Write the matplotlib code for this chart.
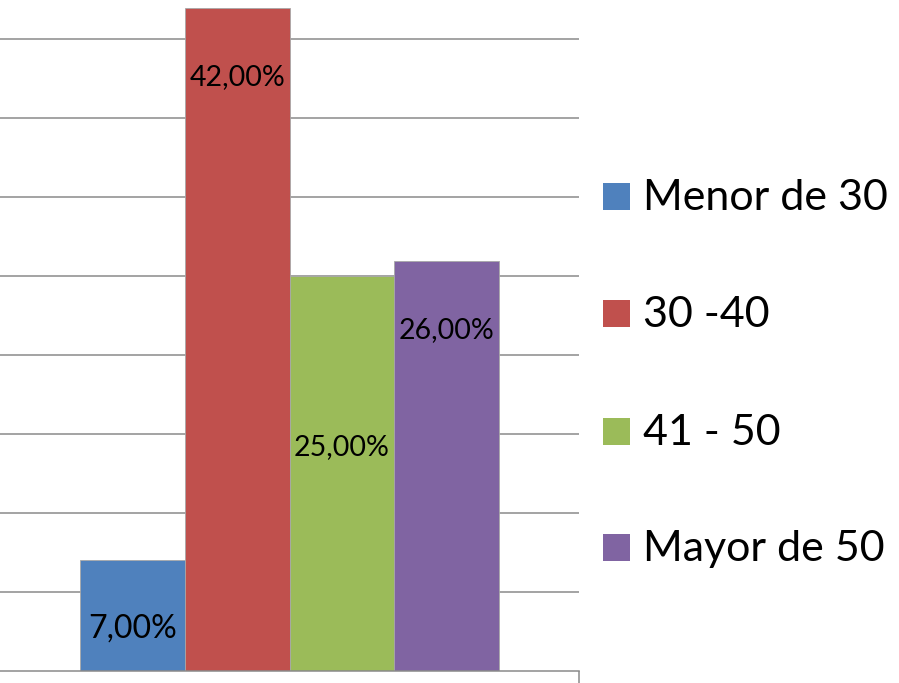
import matplotlib.pyplot as plt
from matplotlib.patches import Rectangle

# datos del grafico (porcentajes por rango de edad)
categories = ['Menor de 30', '30 -40', '41 - 50', 'Mayor de 50']
values = [7.0, 42.0, 25.0, 26.0]
labels = ['7,00%', '42,00%', '25,00%', '26,00%']
colors = ['#4F81BD', '#C0504D', '#9BBB59', '#8064A2']

# where the value labels sit (in % units) and their sizes
label_y = [2.15, 37.11, 13.68, 21.09]
label_size = [23, 20.5, 20.5, 20.5]

plt.rcParams['font.family'] = ['Lato', 'DejaVu Sans']

W, H = 899, 683
fig = plt.figure(figsize=(W / 100, H / 100), dpi=100)
ax = fig.add_axes([0, 12 / H, 579 / W, 671 / H])

xpos = [-1.5, -0.5, 0.5, 1.5]
bars = ax.bar(xpos, values, width=1.0, color=colors, edgecolor='#a8a8a8', linewidth=0.6, zorder=2)

for x, y, txt, fs in zip(xpos, label_y, labels, label_size):
    ax.text(x, y, txt, ha='center', va='baseline', fontsize=fs, color='black', zorder=3)

ax.set_xlim(-2.764, 2.764)
ax.set_ylim(0, 42.5)
ax.set_yticks(range(5, 45, 5))
ax.yaxis.grid(True, color='#8a8a8a', linewidth=1.1)
ax.set_axisbelow(True)
ax.tick_params(axis='y', length=0, labelleft=False)
ax.set_xticks([2.764])
ax.set_xticklabels([''])
ax.tick_params(axis='x', direction='out', length=9, width=1.1, color='#8a8a8a')

for s in ['left', 'right', 'top']:
    ax.spines[s].set_visible(False)
ax.spines['bottom'].set_color('#8a8a8a')
ax.spines['bottom'].set_linewidth(1.1)

# leyenda a la derecha
baselines = [210, 327, 445, 561]
for yb, lab, c in zip(baselines, categories, colors):
    fig.add_artist(Rectangle((603 / W, (H - yb) / H), 27 / W, 27 / H,
                             transform=fig.transFigure, facecolor=c, edgecolor='none'))
    fig.text(643 / W, (H - yb) / H, lab, fontsize=31, va='baseline', ha='left', color='black')

fig.savefig('out.png', dpi=100)
